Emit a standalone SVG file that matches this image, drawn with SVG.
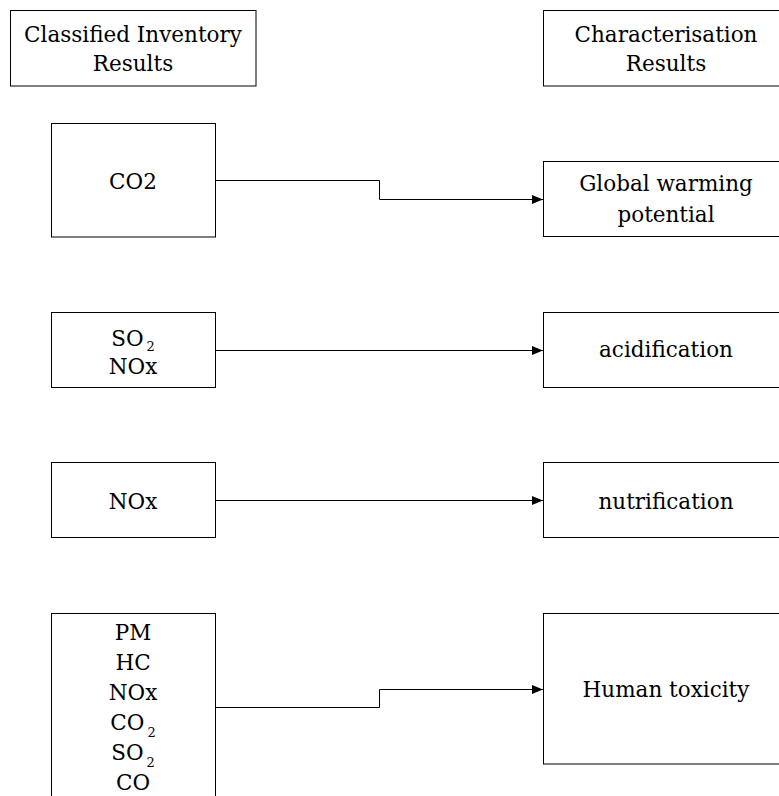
<svg xmlns="http://www.w3.org/2000/svg" width="779" height="796" viewBox="0 0 779 796">
<style>
.box{fill:#fff;stroke:#000;stroke-width:1}
text{font-family:'DejaVu Serif','Liberation Serif',serif;font-size:21.5px;text-anchor:middle;fill:#000}
.sub{font-size:13px}
.c{fill:none;stroke:#000;stroke-width:1}
</style>
<defs>
<marker id="arr" markerUnits="userSpaceOnUse" markerWidth="12" markerHeight="10" refX="11" refY="4.5" orient="auto">
<path d="M0,0 L11,4.5 L0,9 z" fill="#000"/>
</marker>
</defs>
<rect width="779" height="796" fill="#fff"/>
<g id="connectors">
<path class="c" d="M215.5,180.5 H379.5 V199.5 H543" marker-end="url(#arr)"/>
<path class="c" d="M215.5,350.5 H543" marker-end="url(#arr)"/>
<path class="c" d="M215.5,500.5 H543" marker-end="url(#arr)"/>
<path class="c" d="M215.5,707.5 H379.5 V689.5 H543" marker-end="url(#arr)"/>
</g>
<g id="hdr-left">
<rect class="box" x="10.5" y="10.5" width="245.5" height="75.5"/>
<text x="133" y="42">Classified Inventory</text>
<text x="133" y="71">Results</text>
</g>
<g id="hdr-right">
<rect class="box" x="543.5" y="10.5" width="250" height="75.5"/>
<text x="666" y="42">Characterisation</text>
<text x="666" y="71">Results</text>
</g>
<g id="in-co2">
<rect class="box" x="51.5" y="123.5" width="164" height="113.5"/>
<text x="133" y="188.5">CO2</text>
</g>
<g id="in-so2-nox">
<rect class="box" x="51.5" y="312.5" width="164" height="75"/>
<text x="133" y="346">SO<tspan class="sub" dx="3" dy="5">2</tspan></text>
<text x="133" y="374">NOx</text>
</g>
<g id="in-nox">
<rect class="box" x="51.5" y="462.5" width="164" height="75"/>
<text x="133" y="508.5">NOx</text>
</g>
<g id="in-list">
<rect class="box" x="51.5" y="613.5" width="164" height="200"/>
<text x="133" y="640">PM</text>
<text x="133" y="670">HC</text>
<text x="133" y="700">NOx</text>
<text x="133" y="730">CO<tspan class="sub" dx="3" dy="7">2</tspan></text>
<text x="133" y="760">SO<tspan class="sub" dx="3" dy="7">2</tspan></text>
<text x="133" y="790">CO</text>
</g>
<g id="out-gwp">
<rect class="box" x="543.5" y="161.5" width="250" height="75"/>
<text x="666" y="191">Global warming</text>
<text x="666" y="221.5">potential</text>
</g>
<g id="out-acid">
<rect class="box" x="543.5" y="312.5" width="250" height="75"/>
<text x="666" y="357">acidification</text>
</g>
<g id="out-nutri">
<rect class="box" x="543.5" y="462.5" width="250" height="75"/>
<text x="666" y="508.5">nutrification</text>
</g>
<g id="out-tox">
<rect class="box" x="543.5" y="613.5" width="250" height="150.5"/>
<text x="666" y="697">Human toxicity</text>
</g>
</svg>
